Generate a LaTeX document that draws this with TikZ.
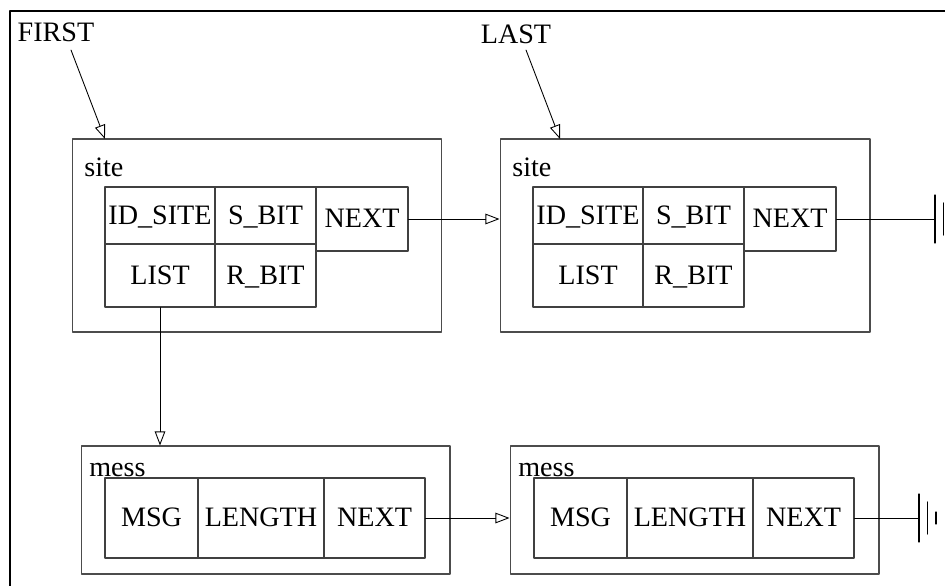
\documentclass[tikz,border=0pt]{standalone}
\usepackage{fontspec}
\setmainfont{Liberation Serif}
\usetikzlibrary{arrows.meta}
\tikzset{
  box/.style={draw=black!70, line width=0.6pt, inner sep=0pt},
  cell/.style={draw=black!75, line width=0.6pt, inner sep=0pt, text height=1em, text depth=0pt},
  ptr/.style={-{Triangle[open,length=8pt,width=6pt]}, line width=0.5pt},
}
\begin{document}
\begin{tikzpicture}[x=0.02cm, y=-0.02cm, font=\fontsize{16}{19}\selectfont, line join=round, line cap=round]
	\clip (0,0) rectangle (945,585);
	\draw[line width=0.7pt] (10,11) rectangle (980,620);
	% sites
	\foreach \n/\dx in {1/0,2/428}{
		\node[box, minimum width=7.4cm, minimum height=3.86cm] (site\n) at (257+\dx,235.5) {};
		\node[anchor=base west, inner sep=0pt] (sitelbl\n) at (84+\dx,176) {site};
		\node[cell, minimum width=2.2cm, minimum height=1.14cm] (id\n) at (160+\dx,215.5) {ID\_SITE};
		\node[cell, minimum width=2.02cm, minimum height=1.14cm] (sb\n) at (265.5+\dx,215.5) {S\_BIT};
		\node[cell, minimum width=1.84cm, minimum height=1.28cm] (nx\n) at (362+\dx,219) {NEXT};
		\node[cell, minimum width=2.2cm, minimum height=1.26cm] (ls\n) at (160+\dx,275.5) {LIST};
		\node[cell, minimum width=2.02cm, minimum height=1.26cm] (rb\n) at (265.5+\dx,275.5) {R\_BIT};
	}
	% messages
	\foreach \n/\dx in {1/0,2/429}{
		\node[box, minimum width=7.38cm, minimum height=2.56cm] (mess\n) at (265.5+\dx,510) {};
		\node[anchor=base west, inner sep=0pt] (messlbl\n) at (89+\dx,476) {mess};
		\node[cell, minimum width=1.86cm, minimum height=1.6cm] (msg\n) at (151.5+\dx,518) {MSG};
		\node[cell, minimum width=2.52cm, minimum height=1.6cm] (len\n) at (261+\dx,518) {LENGTH};
		\node[cell, minimum width=2.02cm, minimum height=1.6cm] (mn\n) at (374.5+\dx,518) {NEXT};
	}
	\node[inner sep=0pt] (first) at (56,32) {FIRST};
	\node[inner sep=0pt] (last) at (516,34) {LAST};
	\path
	(71,50) coordinate (first0)
	(105,139) coordinate (first1)
	(526,50) coordinate (last0)
	(560,139) coordinate (last1)
	(935,219) coordinate (gnds)
	(919,518) coordinate (gndm)
	;
	\draw[ptr] (first0)--(first1);
	\draw[ptr] (last0)--(last1);
	\draw[ptr] (nx1.east)--(nx1.east -| site2.west);
	\draw[ptr] (mn1.east)--(mn1.east -| mess2.west);
	\draw[ptr] (ls1.south)--(ls1.south |- mess1.north);
	\draw[line width=0.5pt] (nx2.east)--(gnds) (mn2.east)--(gndm);
	\foreach \g in {gnds,gndm} \draw[line width=0.7pt] (\g)++(0,-24)--++(0,48) (\g)++(8.5,-16)--++(0,32) (\g)++(17,-6)--++(0,12);
\end{tikzpicture}
\end{document}
